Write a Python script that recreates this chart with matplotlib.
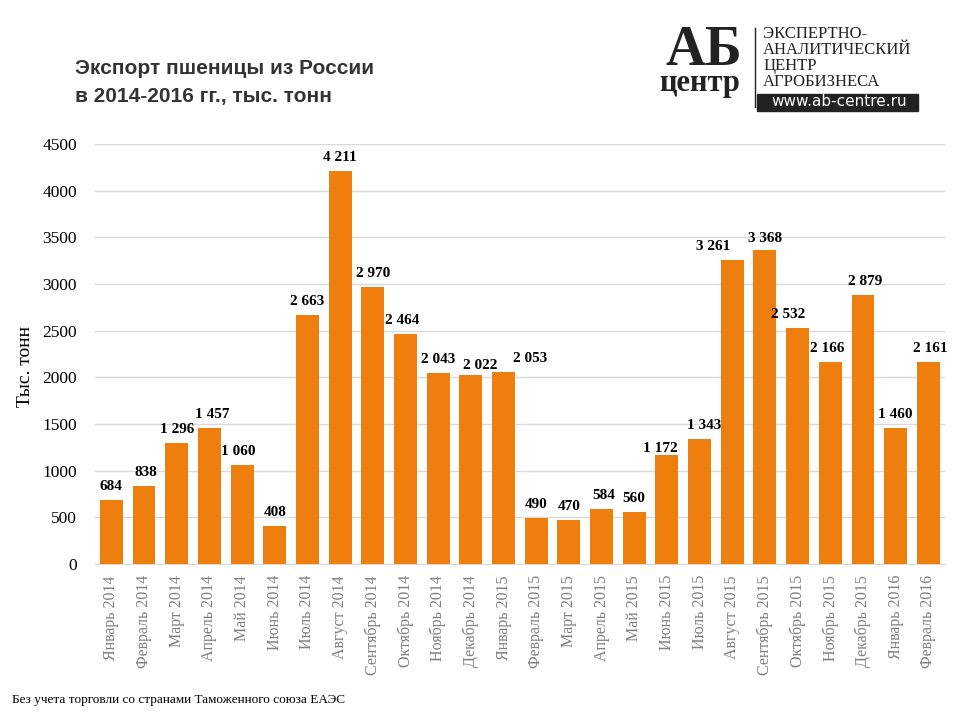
import numpy as np
import matplotlib.pyplot as plt
from matplotlib.patches import Rectangle

# data
months = ['Январь 2014', 'Февраль 2014', 'Март 2014', 'Апрель 2014', 'Май 2014',
          'Июнь 2014', 'Июль 2014', 'Август 2014', 'Сентябрь 2014', 'Октябрь 2014',
          'Ноябрь 2014', 'Декабрь 2014', 'Январь 2015', 'Февраль 2015', 'Март 2015',
          'Апрель 2015', 'Май 2015', 'Июнь 2015', 'Июль 2015', 'Август 2015',
          'Сентябрь 2015', 'Октябрь 2015', 'Ноябрь 2015', 'Декабрь 2015',
          'Январь 2016', 'Февраль 2016']
export = [684, 838, 1296, 1457, 1060, 408, 2663, 4211, 2970, 2464, 2043, 2022, 2053,
          490, 470, 584, 560, 1172, 1343, 3261, 3368, 2532, 2166, 2879, 1460, 2161]
yticks = [0, 500, 1000, 1500, 2000, 2500, 3000, 3500, 4000, 4500]

# hand nudges of value labels (pixels), like in the original
label_dx = [0, 2, 0, 3, -4, 0, 0, 0, 0, -3, 0, 9, 27, 0, 0, 2, 0, -7, 5, -19, 0, -9, -3, 2, 0, 2]
label_gap = [7] * len(export)
label_gap[17] = 0
label_gap[11] = 3
label_gap[20] = 5

serif = 'Liberation Serif'
orange = '#EE7F0E'

fig = plt.figure(figsize=(9.6, 7.2), dpi=100)
ax = fig.add_axes([0.099, 0.2167, 0.885, 0.5833])

x = np.arange(len(months))
ax.bar(x, export, width=0.7, color=orange, zorder=3)

for xi, v, dx, g in zip(x, export, label_dx, label_gap):
    lbl = f'{v:,}'.replace(',', ' ')
    ax.annotate(lbl, (xi, v), xytext=(dx * 0.72, g * 0.72), textcoords='offset points',
                ha='center', va='bottom', fontsize=11, fontweight='bold',
                family=serif, color='black')

ax.set_xlim(-0.5, len(months) - 0.5)
ax.set_ylim(0, 4500)
ax.set_yticks(yticks)
ax.set_yticklabels([str(t) for t in yticks], family=serif, fontsize=12.5)
ax.set_xticks(x)
ax.set_xticklabels(months, rotation=90, family=serif, fontsize=11.5,
                   color='#7f7f7f', va='top', ha='center')
ax.tick_params(axis='both', length=0)
ax.tick_params(axis='y', pad=13)
ax.tick_params(axis='x', pad=8)
ax.grid(axis='y', color='#d9d9d9', linewidth=1, zorder=0)
for s in ['top', 'right', 'left']:
    ax.spines[s].set_visible(False)
ax.spines['bottom'].set_color('#d9d9d9')

ax.set_ylabel('Тыс. тонн', family=serif, fontsize=14, labelpad=4)
ax.yaxis.set_label_coords(-0.072, 0.47)

# title
fig.text(0.078, 0.905, 'Экспорт пшеницы из России', family='Liberation Sans',
         fontsize=15, fontweight='bold', color='#333333', va='center')
fig.text(0.078, 0.866, 'в 2014-2016 гг., тыс. тонн', family='Liberation Sans',
         fontsize=15, fontweight='bold', color='#333333', va='center')

# logo
fig.text(0.733, 1 - 65 / 720, 'АБ', family=serif, fontsize=40, fontweight='bold',
         color='#222222', ha='center', va='baseline')
fig.text(0.729, 1 - 91 / 720, 'центр', family=serif, fontsize=22, fontweight='bold',
         color='#222222', ha='center', va='baseline')
fig.add_artist(plt.Line2D([0.786, 0.786], [1 - 107 / 720, 1 - 28 / 720], color='#222222',
                          linewidth=1, transform=fig.transFigure))
logo_lines = ['ЭКСПЕРТНО-', 'АНАЛИТИЧЕСКИЙ', 'ЦЕНТР', 'АГРОБИЗНЕСА']
for i, t in enumerate(logo_lines):
    fig.text(0.795, 0.953 - i * 0.0225, t, family=serif, fontsize=12,
             color='#222222', va='center')
fig.add_artist(Rectangle((0.789, 1 - 111 / 720), 0.167, 17 / 720, color='#222222',
                         transform=fig.transFigure))
fig.text(0.874, 1 - 102 / 720, 'www.ab-centre.ru', family='DejaVu Sans', fontsize=11,
         color='white', ha='center', va='center')

# footnote
fig.text(0.012, 0.028, 'Без учета торговли со странами Таможенного союза ЕАЭС',
         family=serif, fontsize=9.5, color='black', va='center')

fig.savefig('out.png', dpi=100)
